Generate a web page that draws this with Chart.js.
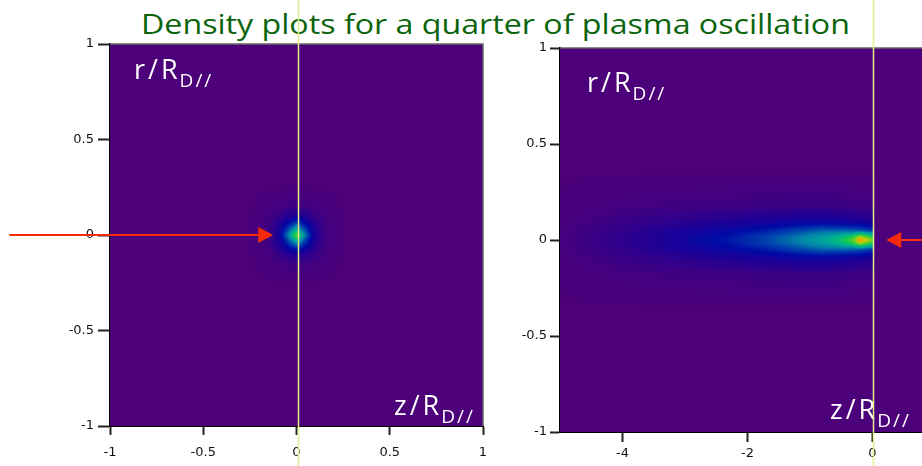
<!DOCTYPE html>
<html>
<head>
<meta charset="utf-8">
<script src="https://cdn.jsdelivr.net/npm/chart.js@4.4.1/dist/chart.umd.min.js"></script>
<style>
  html, body { margin: 0; padding: 0; background: #fff; overflow: hidden; width: 922px; height: 466px; }
  #title { position: absolute; left: 0; top: 4px; width: 990px; text-align: center; white-space: nowrap;
           font-family: "Comic Sans MS", "Open Sans", sans-serif; font-size: 28px; color: #0b640b; }
  #title span { display: inline-block; transform-origin: center; }
  canvas { position: absolute; top: 0; }
  #leftChart { left: 0; }
  #rightChart { left: 500px; }
</style>
</head>
<body>
<div id="title"><span id="titleText">Density plots for a quarter of plasma oscillation</span></div>
<canvas id="leftChart" width="500" height="466"></canvas>
<canvas id="rightChart" width="435" height="466"></canvas>
<script>
// axis ticks
const leftZTicks = [-1, -0.5, 0, 0.5, 1];
const rTicks = [-1, -0.5, 0, 0.5, 1];
const rightZTicks = [-4, -2, 0];

// left plot: density samples (|r| rows, z columns)
const leftZNodes = [-0.25, -0.15, -0.1, -0.05, 0, 0.05, 0.1, 0.15, 0.25];
const leftRNodes = [0, 0.05, 0.1, 0.15, 0.25];
const leftRow0   = [0, 0.06, 0.20, 0.48, 0.78, 0.48, 0.20, 0.06, 0];
const leftRow05  = [0, 0.05, 0.15, 0.33, 0.48, 0.33, 0.15, 0.05, 0];
const leftRow10  = [0, 0.03, 0.08, 0.15, 0.20, 0.15, 0.08, 0.03, 0];
const leftRow15  = [0, 0.015, 0.03, 0.05, 0.06, 0.05, 0.03, 0.015, 0];
const leftRow25  = [0, 0, 0, 0, 0, 0, 0, 0, 0];

// right plot: density samples
const rightZNodes = [-5, -4.5, -3.5, -2.5, -1.75, -1.25, -0.8, -0.5, -0.3, -0.2, -0.1, 0, 0.03];
const rightRNodes = [0, 0.02, 0.05, 0.1, 0.18, 0.35];
const rightRow0   = [0.02, 0.07, 0.17, 0.30, 0.40, 0.49, 0.58, 0.66, 0.78, 0.96, 0.88, 0.80, 0];
const rightRow02  = [0.02, 0.07, 0.17, 0.29, 0.39, 0.47, 0.55, 0.62, 0.70, 0.80, 0.74, 0.68, 0];
const rightRow05  = [0.02, 0.06, 0.15, 0.25, 0.33, 0.40, 0.45, 0.45, 0.44, 0.44, 0.41, 0.39, 0];
const rightRow10  = [0.015, 0.04, 0.10, 0.16, 0.20, 0.23, 0.24, 0.22, 0.20, 0.19, 0.18, 0.17, 0];
const rightRow18  = [0.005, 0.02, 0.04, 0.05, 0.06, 0.065, 0.065, 0.06, 0.05, 0.045, 0.045, 0.04, 0];
const rightRow35  = [0, 0, 0, 0, 0, 0, 0, 0, 0, 0, 0, 0, 0];

// markers: vertical yellow line position and red arrows (data units)
const leftMarkerZ = 0.01;
const rightMarkerZ = 0;
const leftArrow = { from: -1.54, to: -0.125, r: 0 };
const rightArrow = { from: 1.0, to: 0.22, r: 0 };

const rLabel = ['r/R', 'D//'];
const zLabel = ['z/R', 'D//'];

// colour map (purple background -> blue -> cyan -> green -> yellow -> red)
const cmap = [
  [0.00, [76, 0, 122]], [0.10, [50, 0, 138]], [0.20, [25, 0, 152]], [0.30, [0, 10, 165]],
  [0.40, [0, 60, 175]], [0.50, [0, 130, 170]], [0.60, [0, 175, 150]], [0.70, [20, 200, 80]],
  [0.80, [130, 210, 30]], [0.90, [230, 190, 0]], [1.00, [245, 70, 10]]
];
function colorAt(v) {
  v = Math.max(0, Math.min(1, v));
  for (let k = 1; k < cmap.length; k++) {
    if (v <= cmap[k][0]) {
      const [a, ca] = cmap[k - 1], [b, cb] = cmap[k];
      const t = (v - a) / (b - a);
      return ca.map((c, i) => c + (cb[i] - c) * t);
    }
  }
  return cmap[cmap.length - 1][1];
}

function bracket(nodes, v) {
  let i = 0;
  while (i < nodes.length - 2 && v > nodes[i + 1]) i++;
  return [i, (v - nodes[i]) / (nodes[i + 1] - nodes[i])];
}
function sample(f, z, r) {
  const ar = Math.abs(r), zn = f.z, rn = f.r;
  if (z < zn[0] || z > zn[zn.length - 1] || ar > rn[rn.length - 1]) return 0;
  const [i, tx] = bracket(zn, z);
  const [j, ty] = bracket(rn, ar);
  const g = f.rows;
  const a = g[j][i] * (1 - tx) + g[j][i + 1] * tx;
  const b = g[j + 1][i] * (1 - tx) + g[j + 1][i + 1] * tx;
  return a * (1 - ty) + b * ty;
}

const heatPlugin = {
  id: 'heat',
  beforeDatasetsDraw(chart, args, o) {
    const { ctx, chartArea: a, scales: { x, y } } = chart;
    const w = Math.round(a.right - a.left), h = Math.round(a.bottom - a.top);
    const off = document.createElement('canvas');
    off.width = w; off.height = h;
    const octx = off.getContext('2d');
    const img = octx.createImageData(w, h);
    const zs = [];
    for (let px = 0; px < w; px++) zs.push(x.getValueForPixel(a.left + px + 0.5));
    for (let py = 0; py < h; py++) {
      const r = y.getValueForPixel(a.top + py + 0.5);
      for (let px = 0; px < w; px++) {
        const c = colorAt(sample(o.field, zs[px], r));
        const k = (py * w + px) * 4;
        img.data[k] = c[0]; img.data[k + 1] = c[1]; img.data[k + 2] = c[2]; img.data[k + 3] = 255;
      }
    }
    octx.putImageData(img, 0, 0);
    ctx.drawImage(off, a.left, a.top);
  }
};

function drawLabel(ctx, x, y, parts) {
  ctx.fillStyle = '#fff';
  ctx.font = '27px "Comic Sans MS", "Open Sans", sans-serif';
  ctx.letterSpacing = '3px';
  ctx.textBaseline = 'alphabetic';
  ctx.textAlign = 'left';
  ctx.fillText(parts[0], x, y);
  const w = ctx.measureText(parts[0]).width;
  ctx.font = '19px "Comic Sans MS", "Open Sans", sans-serif';
  ctx.letterSpacing = '2px';
  ctx.fillText(parts[1], x + w - 1, y + 8);
  ctx.letterSpacing = '0px';
}

function drawArrow(ctx, x, y, arrow) {
  const x0 = x.getPixelForValue(arrow.from), x1 = x.getPixelForValue(arrow.to);
  const yy = y.getPixelForValue(arrow.r);
  const dir = Math.sign(x1 - x0), head = 15, half = 8;
  ctx.strokeStyle = '#f42a08';
  ctx.fillStyle = '#f42a08';
  ctx.lineWidth = 2;
  ctx.beginPath();
  ctx.moveTo(x0, yy);
  ctx.lineTo(x1 - dir * head, yy);
  ctx.stroke();
  ctx.beginPath();
  ctx.moveTo(x1, yy);
  ctx.lineTo(x1 - dir * head, yy - half);
  ctx.lineTo(x1 - dir * head, yy + half);
  ctx.closePath();
  ctx.fill();
}

const overlayPlugin = {
  id: 'overlay',
  afterDraw(chart, args, o) {
    const { ctx, chartArea: a, scales: { x, y } } = chart;
    ctx.save();
    // frame top / right
    ctx.strokeStyle = '#666';
    ctx.lineWidth = 1.5;
    ctx.beginPath();
    ctx.moveTo(a.left, a.top); ctx.lineTo(a.right, a.top); ctx.lineTo(a.right, a.bottom);
    ctx.stroke();
    // labels inside plot
    ctx.save();
    ctx.beginPath(); ctx.rect(a.left, a.top, a.right - a.left, a.bottom - a.top); ctx.clip();
    drawLabel(ctx, a.left + o.rPos[0], a.top + o.rPos[1], rLabel);
    drawLabel(ctx, a.left + o.zPos[0], a.bottom + o.zPos[1], zLabel);
    ctx.restore();
    // arrow
    drawArrow(ctx, x, y, o.arrow);
    // vertical marker
    const mx = Math.round(x.getPixelForValue(o.markerZ)) + 0.5;
    ctx.strokeStyle = '#e2ef8a';
    ctx.lineWidth = 1.5;
    ctx.beginPath();
    ctx.moveTo(mx, 0); ctx.lineTo(mx, chart.height);
    ctx.stroke();
    ctx.restore();
  }
};

function axisOpts(min, max, ticks, fit, tickLen, pad) {
  return {
    type: 'linear', min: min, max: max,
    afterBuildTicks: s => { s.ticks = ticks.map(v => ({ value: v })); },
    afterFit: fit,
    border: { display: true, color: '#000', width: 2 },
    grid: { display: true, drawOnChartArea: false, drawTicks: true, tickColor: '#222', tickWidth: 2, tickLength: tickLen },
    ticks: { color: '#111', padding: pad, font: { family: 'DejaVu Sans', size: 13 }, callback: v => String(v) }
  };
}

function makeChart(id, cfg) {
  return new Chart(document.getElementById(id), {
    type: 'scatter',
    data: { datasets: [] },
    plugins: [heatPlugin, overlayPlugin],
    options: {
      responsive: false,
      animation: false,
      layout: { padding: cfg.padding },
      plugins: {
        legend: { display: false },
        tooltip: { enabled: false },
        heat: { field: cfg.field },
        overlay: { markerZ: cfg.markerZ, arrow: cfg.arrow, rPos: cfg.rPos, zPos: cfg.zPos }
      },
      scales: {
        x: axisOpts(cfg.zMin, cfg.zMax, cfg.zTicks, s => { s.height = cfg.xHeight; }, cfg.xTick[0], cfg.xTick[1]),
        y: axisOpts(-1, 1, rTicks, s => { s.width = cfg.yWidth; }, cfg.yTick[0], cfg.yTick[1])
      }
    }
  });
}

makeChart('leftChart', {
  field: { z: leftZNodes, r: leftRNodes, rows: [leftRow0, leftRow05, leftRow10, leftRow15, leftRow25] },
  zMin: -1, zMax: 1, zTicks: leftZTicks,
  padding: { top: 44, right: 17, left: 0, bottom: 0 },
  xHeight: 40, yWidth: 110, xTick: [9, 10], yTick: [12, 4],
  markerZ: leftMarkerZ, arrow: leftArrow,
  rPos: [24, 35], zPos: [284, -11]
});

makeChart('rightChart', {
  field: { z: rightZNodes, r: rightRNodes, rows: [rightRow0, rightRow02, rightRow05, rightRow10, rightRow18, rightRow35] },
  zMin: -5, zMax: 1, zTicks: rightZTicks,
  padding: { top: 48, right: 0, left: 0, bottom: 0 },
  xHeight: 34, yWidth: 60, xTick: [10, 4], yTick: [10, 3],
  markerZ: rightMarkerZ, arrow: rightArrow,
  rPos: [27, 44], zPos: [270, -13]
});

// stretch title to the reference width
const t = document.getElementById('titleText');
t.style.transform = 'scaleX(' + (709 / t.offsetWidth) + ')';
</script>
</body>
</html>
